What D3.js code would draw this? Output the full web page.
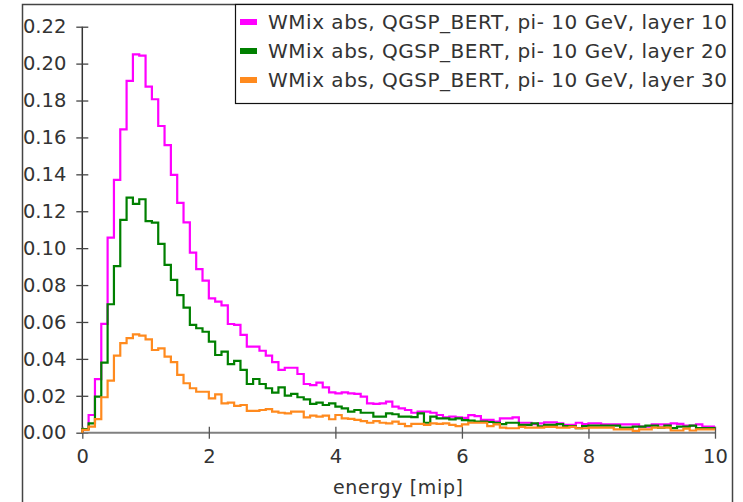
<!DOCTYPE html>
<html>
<head>
  <meta charset="UTF-8">
  <title>energy</title>
  <script src="https://d3js.org/d3.v7.min.js"></script>
  <style>
    * { margin: 0; padding: 0; box-sizing: border-box; }
    body { background: #fff; font-family: "DejaVu Sans", sans-serif; }
  </style>
</head>
<body>
  <div id="chart"></div>
  <script>
    // bins of 0.1 mip, from 0 to 10
    const binLow = d3.range(100).map(i => i / 10);

    const layer10 = [
      0.002, 0.0096, 0.029, 0.059, 0.1057, 0.137, 0.1644, 0.1906, 0.205, 0.2043,
      0.1875, 0.1807, 0.1662, 0.1558, 0.1397, 0.1245, 0.114, 0.0976, 0.0886, 0.0824,
      0.0728, 0.071, 0.069, 0.0589, 0.0584, 0.053, 0.0466, 0.0466, 0.0444, 0.0418,
      0.0382, 0.034, 0.0352, 0.0352, 0.0318, 0.0264, 0.0258, 0.0271, 0.0246, 0.0218,
      0.0213, 0.0219, 0.0213, 0.021, 0.0195, 0.0159, 0.0156, 0.0159, 0.0168, 0.0141,
      0.0132, 0.0123, 0.0108, 0.0114, 0.0114, 0.0108, 0.0096, 0.0083, 0.0087, 0.0083,
      0.008, 0.0095, 0.009, 0.007, 0.007, 0.006, 0.0078, 0.0078, 0.0083, 0.0054,
      0.0054, 0.0047, 0.005, 0.0056, 0.0056, 0.0051, 0.0042, 0.0042, 0.0054, 0.0047,
      0.0051, 0.0051, 0.0045, 0.0045, 0.0045, 0.0045, 0.0045, 0.0045, 0.0033, 0.0033,
      0.0045, 0.0045, 0.0045, 0.005, 0.0048, 0.0038, 0.0038, 0.0045, 0.0033, 0.0033
    ];
    const layer20 = [
      0.002, 0.005, 0.0195, 0.038, 0.0696, 0.0903, 0.1153, 0.1274, 0.124, 0.1265,
      0.1147, 0.1138, 0.1023, 0.0909, 0.0828, 0.0746, 0.0678, 0.0584, 0.0566, 0.0547,
      0.0493, 0.0421, 0.0439, 0.0372, 0.0389, 0.034, 0.0264, 0.0291, 0.0264, 0.0241,
      0.0217, 0.0246, 0.0201, 0.021, 0.0192, 0.0181, 0.0156, 0.0163, 0.015, 0.0159,
      0.0141, 0.0132, 0.0114, 0.0123, 0.0108, 0.0108, 0.0087, 0.0087, 0.0105, 0.01,
      0.0087, 0.0087, 0.0084, 0.0105, 0.0054, 0.0087, 0.0078, 0.0078, 0.0072, 0.0078,
      0.0068, 0.0065, 0.006, 0.006, 0.0058, 0.0054, 0.0047, 0.0054, 0.0054, 0.0042,
      0.0042, 0.005, 0.0035, 0.0042, 0.0042, 0.0047, 0.0036, 0.0036, 0.0025, 0.0036,
      0.0038, 0.0038, 0.0038, 0.0038, 0.0038, 0.0027, 0.0027, 0.0033, 0.0033, 0.0038,
      0.0038, 0.0027, 0.0038, 0.0025, 0.0033, 0.0033, 0.0038, 0.0025, 0.0025, 0.0025
    ];
    const layer30 = [
      0.0015, 0.0033, 0.0074, 0.0192, 0.0282, 0.0418, 0.0485, 0.0512, 0.0533, 0.0526,
      0.0506, 0.0448, 0.0457, 0.0412, 0.0382, 0.0313, 0.0268, 0.0241, 0.0222, 0.0222,
      0.0186, 0.0208, 0.0159, 0.0163, 0.0145, 0.015, 0.0118, 0.0118, 0.0123, 0.0128,
      0.0114, 0.0108, 0.0105, 0.0114, 0.0114, 0.0083, 0.0092, 0.0087, 0.0092, 0.0073,
      0.0096, 0.0078, 0.0075, 0.0069, 0.0063, 0.0054, 0.0063, 0.0054, 0.0051, 0.006,
      0.0048, 0.0036, 0.0048, 0.0048, 0.0042, 0.0051, 0.0048, 0.0051, 0.0042, 0.0036,
      0.0045, 0.0054, 0.0054, 0.0054, 0.0036, 0.0045, 0.0027, 0.0024, 0.0024, 0.0032,
      0.0027, 0.0027, 0.0027, 0.0032, 0.0032, 0.0027, 0.0027, 0.0032, 0.0024, 0.0024,
      0.0027, 0.0027, 0.0027, 0.0027, 0.0018, 0.0018, 0.0018, 0.001, 0.0018, 0.0018,
      0.0027, 0.0027, 0.0027, 0.0012, 0.0012, 0.0022, 0.0012, 0.0018, 0.0018, 0.0018
    ];

    const seriesNames = [
      "WMix abs, QGSP_BERT, pi- 10 GeV, layer 10",
      "WMix abs, QGSP_BERT, pi- 10 GeV, layer 20",
      "WMix abs, QGSP_BERT, pi- 10 GeV, layer 30"
    ];
    const seriesColors = ["#ff00ff", "#008000", "#ff8a1e"];
    const xTicks = [0, 2, 4, 6, 8, 10];
    const yTicks = [0, 0.02, 0.04, 0.06, 0.08, 0.10, 0.12, 0.14, 0.16, 0.18, 0.20, 0.22];

    const W = 743, H = 502;
    const svg = d3.select("#chart").append("svg")
      .attr("width", W).attr("height", H);

    // outer frame
    svg.append("rect")
      .attr("x", 22.5).attr("y", 4.5)
      .attr("width", 710).attr("height", 510)
      .attr("fill", "none").attr("stroke", "#444").attr("stroke-width", 1.5);

    const x = d3.scaleLinear().domain([0, 10]).range([82.3, 715]);
    const y = d3.scaleLinear().domain([0, 0.22]).range([432.7, 26.7]);

    // y axis
    const yAxis = svg.append("g")
      .attr("transform", "translate(82.3,0)")
      .call(d3.axisLeft(y).tickValues(yTicks).tickSize(6).tickPadding(10)
        .tickFormat(d3.format(".2f")));
    yAxis.select(".domain").attr("stroke", "#333").attr("stroke-width", 1.5)
      .attr("d", `M0,${y(0.22)}V${y(0)}`);
    yAxis.selectAll(".tick line").attr("x1", 6).attr("stroke", "#444").attr("stroke-width", 1.3);
    yAxis.selectAll("text")
      .style("font-family", "DejaVu Sans").style("font-size", "19.5px").attr("fill", "#333");

    // x axis
    const xAxis = svg.append("g")
      .attr("transform", `translate(0,${y(0)})`)
      .call(d3.axisBottom(x).tickValues(xTicks).tickSize(6).tickPadding(10)
        .tickFormat(d3.format("d")));
    xAxis.select(".domain").attr("stroke", "#808080").attr("stroke-width", 2)
      .attr("d", `M${x(0)},0H${x(10)}`);
    xAxis.selectAll(".tick line").attr("y1", -6).attr("stroke", "#555").attr("stroke-width", 1.3);
    xAxis.selectAll("text")
      .style("font-family", "DejaVu Sans").style("font-size", "19.5px").attr("fill", "#333");

    svg.append("text")
      .attr("x", 398).attr("y", 494)
      .attr("text-anchor", "middle")
      .style("font-size", "19px").attr("fill", "#333")
      .attr("textLength", 130).attr("lengthAdjust", "spacing")
      .text("energy [mip]");

    // step histograms
    const allSeries = [layer10, layer20, layer30];
    const step = d3.line()
      .x(d => x(d[0])).y(d => y(d[1]))
      .curve(d3.curveStepAfter);

    allSeries.forEach((vals, k) => {
      const pts = [[0, 0]].concat(binLow.map((b, i) => [b, vals[i]]));
      pts.push([10, vals[vals.length - 1]]);
      svg.append("path")
        .datum(pts)
        .attr("d", step)
        .attr("fill", "none")
        .attr("stroke", seriesColors[k])
        .attr("stroke-width", 2.2);
    });

    // legend
    const legend = svg.append("g");
    legend.append("rect")
      .attr("x", 235.5).attr("y", 4.5)
      .attr("width", 497).attr("height", 99)
      .attr("fill", "#fff").attr("stroke", "#111").attr("stroke-width", 1.2);
    seriesNames.forEach((name, k) => {
      const cy = 22 + k * 29;
      legend.append("rect")
        .attr("x", 240).attr("y", cy - 3)
        .attr("width", 17).attr("height", 6)
        .attr("fill", seriesColors[k]);
      legend.append("text")
        .attr("x", 268).attr("y", cy + 7)
        .style("font-size", "20px").attr("fill", "#333")
        .attr("textLength", 459).attr("lengthAdjust", "spacing")
        .text(name);
    });
  </script>
</body>
</html>
